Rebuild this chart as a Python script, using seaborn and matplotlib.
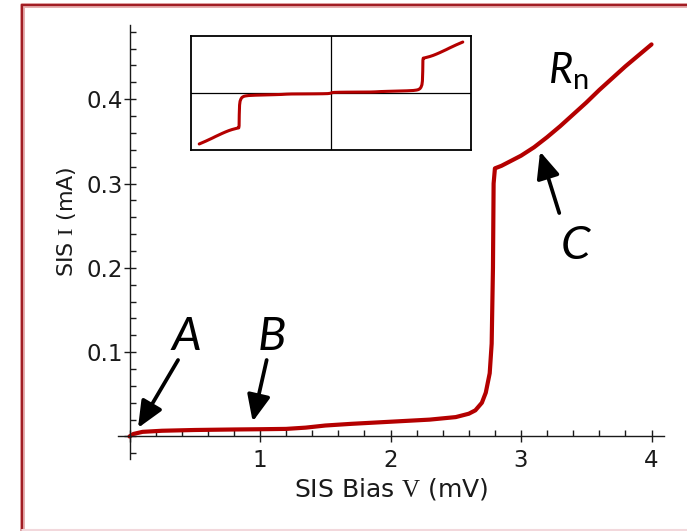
import matplotlib
matplotlib.use("Agg")
import matplotlib.pyplot as plt
import seaborn as sns
import numpy as np
from matplotlib.ticker import FixedLocator, FixedFormatter, MultipleLocator
from matplotlib.lines import Line2D

# SIS I-V curve (bias in mV, current in mA)
bias_mv = [0, 0.03, 0.1, 0.25, 0.5, 0.8, 1.0, 1.2, 1.35, 1.5, 1.7, 2.0, 2.3, 2.5,
           2.6, 2.65, 2.7, 2.73, 2.76, 2.775, 2.785, 2.79, 2.80, 2.85, 2.9, 3.0,
           3.1, 3.2, 3.3, 3.4, 3.5, 3.6, 3.7, 3.8, 3.9, 4.0]
current_ma = [0, 0.003, 0.0055, 0.0068, 0.0077, 0.0083, 0.0086, 0.009, 0.0105, 0.013,
              0.015, 0.0175, 0.020, 0.023, 0.027, 0.031, 0.040, 0.052, 0.075, 0.11,
              0.20, 0.30, 0.318, 0.321, 0.325, 0.333, 0.343, 0.355, 0.368, 0.382,
              0.396, 0.411, 0.425, 0.439, 0.452, 0.465]

x_ticks = [0, 1, 2, 3, 4]
x_labels = ["", "1", "2", "3", "4"]
y_ticks = [0, 0.1, 0.2, 0.3, 0.4]
y_labels = ["", "0.1", "0.2", "0.3", "0.4"]

# annotation letters: (label, text pos, arrow tail, arrow tip)
marks = [("A", (0.433, 0.1026), (0.372, 0.0907), (0.065, 0.0101)),
         ("B", (1.092, 0.1026), (1.051, 0.0907), (0.944, 0.0176)),
         ("C", (3.414, 0.211), (3.293, 0.265), (3.146, 0.338))]

red = "#b40000"
ink = "#1a1a1a"

sns.set_style("white")
plt.rcParams["font.family"] = ["DejaVu Sans"]
plt.rcParams["text.color"] = ink
plt.rcParams["mathtext.fontset"] = "custom"
plt.rcParams["mathtext.rm"] = "Liberation Serif"
plt.rcParams["mathtext.it"] = "Lato:italic"
plt.rcParams["mathtext.sf"] = "Lato"

fig = plt.figure(figsize=(6.87, 5.31), dpi=100)
ax = fig.add_axes([0.1718, 0.1356, 0.7948, 0.8173])
ax.patch.set_alpha(0)

sns.lineplot(x=bias_mv, y=current_ma, ax=ax, color=red, lw=3.0, sort=False)

ax.set_xlim(-0.088, 4.096)
ax.set_ylim(-0.0267, 0.488)
for s in ["top", "right"]:
    ax.spines[s].set_visible(False)
ax.spines["left"].set_position(("data", 0))
ax.spines["bottom"].set_position(("data", 0))
for s in ["left", "bottom"]:
    ax.spines[s].set_linewidth(1.0)
    ax.spines[s].set_color(ink)

ax.xaxis.set_major_locator(FixedLocator(x_ticks))
ax.xaxis.set_major_formatter(FixedFormatter(x_labels))
ax.xaxis.set_minor_locator(MultipleLocator(0.2))
ax.yaxis.set_major_locator(FixedLocator(y_ticks))
ax.yaxis.set_major_formatter(FixedFormatter(y_labels))
ax.yaxis.set_minor_locator(MultipleLocator(0.02))

ax.tick_params(axis="x", which="major", direction="inout", length=8, width=1, pad=5,
               labelsize=16.5, color=ink, labelcolor=ink)
ax.tick_params(axis="y", which="major", direction="inout", length=8, width=1, pad=0.5,
               labelsize=16.5, color=ink, labelcolor=ink)
ax.tick_params(which="minor", direction="in", length=4, width=1, color=ink)
ax.tick_params(axis="both", which="both", bottom=True, left=True)

ax.set_xlabel(r"SIS Bias $\mathrm{V}$ (mV)", fontsize=18, color=ink)
ax.set_ylabel(r"SIS $\mathrm{I}$ (mA)", fontsize=16, color=ink)
ax.xaxis.set_label_coords(0.501, -0.04)
ax.yaxis.set_label_coords(-0.074, 0.546)

for label, tpos, tail, tip in marks:
    ax.text(tpos[0], tpos[1], label, fontsize=34, fontfamily="Lato", fontstyle="italic",
            color="black", ha="center", va="baseline")
    ax.annotate("", xy=tip, xytext=tail,
                arrowprops=dict(arrowstyle="-|>,head_length=0.8,head_width=0.35",
                                mutation_scale=20, lw=2.7, color="black",
                                shrinkA=0, shrinkB=0))

ax.text(3.207, 0.4193, r"$R_{\mathsf{n}}$", fontsize=30, color="black",
        ha="left", va="baseline")

# inset: full symmetric I-V curve
full_v = [-v for v in bias_mv[::-1]] + bias_mv[1:]
full_i = [-i for i in current_ma[::-1]] + current_ma[1:]
ax_in = fig.add_axes([0.278, 0.7175, 0.4076, 0.2147])
ax_in.axhline(0, color="black", lw=0.9)
ax_in.axvline(0, color="black", lw=0.9)
sns.lineplot(x=full_v, y=full_i, ax=ax_in, color=red, lw=2.2, sort=False)
ax_in.set_xlim(-4.25, 4.25)
ax_in.set_ylim(-0.52, 0.52)
ax_in.set_xticks([])
ax_in.set_yticks([])
for s in ax_in.spines.values():
    s.set_visible(True)
    s.set_linewidth(1.3)
    s.set_color("black")

# slide frame
x0, ytop, ybot = 22 / 687, 1 - 4.5 / 531, 1.5 / 531
for lw, c in [(3.6, "#e6b0b0"), (1.6, "#a11d24")]:
    fig.add_artist(Line2D([x0, x0], [0, ytop], transform=fig.transFigure, lw=lw, color=c))
    fig.add_artist(Line2D([x0, 1.0], [ytop, ytop], transform=fig.transFigure, lw=lw, color=c))
fig.add_artist(Line2D([x0, 1.0], [ybot, ybot], transform=fig.transFigure, lw=1.5,
                      color="#f2d8dc"))

fig.savefig("out.png", dpi=100)
